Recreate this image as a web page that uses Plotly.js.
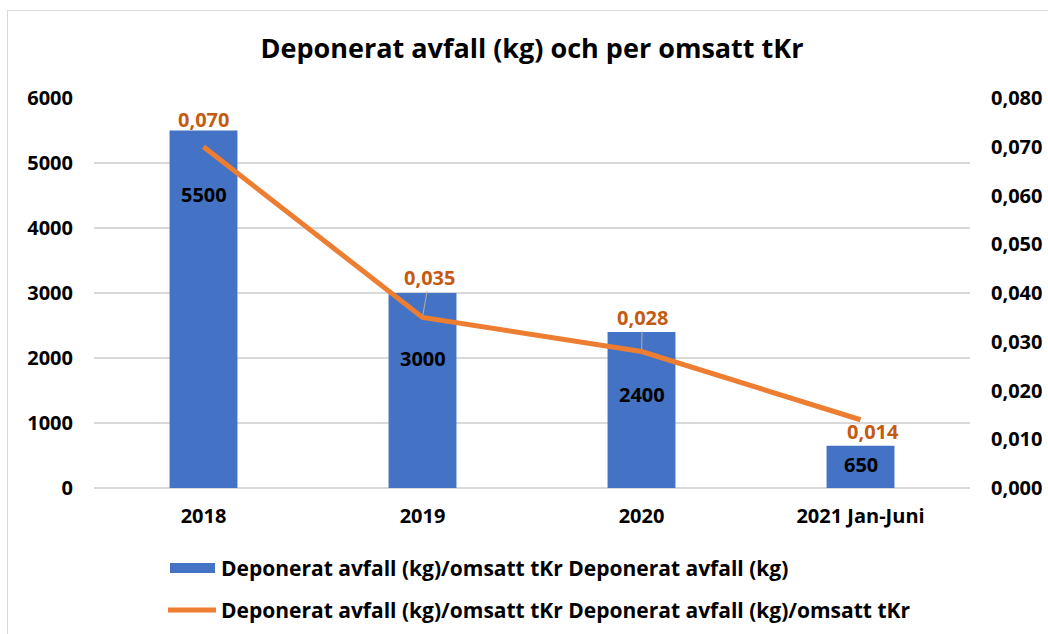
<!DOCTYPE html>
<html>
<head>
<meta charset="utf-8">
<script src="https://cdn.plot.ly/plotly-3.0.1.min.js"></script>
<style>
  html, body { margin: 0; padding: 0; background: #fff; overflow: hidden; }
  #chart { width: 1048px; height: 634px; }
  #frame { position: absolute; left: 7px; top: 10px; width: 1100px; height: 700px;
           border: 1.5px solid #d9d9d9; pointer-events: none; box-sizing: border-box; }
</style>
</head>
<body>
<div id="chart"></div>
<div id="frame"></div>
<script>
// ---- data ----
const categories = ['2018', '2019', '2020', '2021 Jan-Juni'];
const wasteKg = [5500, 3000, 2400, 650];
const wastePerTkr = [0.070, 0.035, 0.028, 0.014];
const barName = 'Deponerat avfall (kg)/omsatt tKr Deponerat avfall (kg)';
const lineName = 'Deponerat avfall (kg)/omsatt tKr Deponerat avfall (kg)/omsatt tKr';
const chartTitle = 'Deponerat avfall (kg) och per omsatt tKr';
const leftTicks = [0, 1000, 2000, 3000, 4000, 5000, 6000];
const rightTicks = [0, 0.01, 0.02, 0.03, 0.04, 0.05, 0.06, 0.07, 0.08];

// ---- label placement (pixel offsets, styling only) ----
const barLabelShift = [-64, -65, -62, -19];
const lineLabelDx = [0, 7, 1, 12];
const lineLabelDy = [-27, -40, -34, 12];
const lineLabelLeader = [false, true, true, false];

const BLUE = '#4472C4', ORANGE = '#ED7D31', LABEL_OR = '#C55A11';
const FONT = 'Open Sans, Noto Sans, sans-serif';

const W = 1048, H = 634, ml = 94, mr = 78, mt = 98, mb = 146;
const pw = W - ml - mr, ph = H - mt - mb;
const px = x => (x - ml) / pw;          // page px -> paper x
const py = y => (mt + ph - y) / ph;     // page px -> paper y

const fmt = v => v.toFixed(3).replace('.', ',');

const annotations = [];
categories.forEach((c, i) => {
  annotations.push({
    x: i, y: wasteKg[i], xref: 'x', yref: 'y', showarrow: false,
    yshift: barLabelShift[i], text: String(wasteKg[i]),
    font: { family: FONT, size: 20, color: '#000', weight: 700 }
  });
  if (lineLabelLeader[i]) {
    annotations.push({
      x: i, y: wastePerTkr[i], xref: 'x', yref: 'y2', showarrow: true,
      ax: lineLabelDx[i], ay: lineLabelDy[i], arrowhead: 0, arrowwidth: 1.2,
      arrowcolor: '#a6a6a6', standoff: 2, borderpad: 0,
      text: fmt(wastePerTkr[i]),
      font: { family: FONT, size: 20, color: LABEL_OR, weight: 700 }
    });
  } else {
    annotations.push({
      x: i, y: wastePerTkr[i], xref: 'x', yref: 'y2', showarrow: false,
      xshift: lineLabelDx[i], yshift: -lineLabelDy[i],
      text: fmt(wastePerTkr[i]),
      font: { family: FONT, size: 20, color: LABEL_OR, weight: 700 }
    });
  }
});

// legend text
annotations.push({
  x: px(219), y: py(568), xref: 'paper', yref: 'paper', xanchor: 'left', yanchor: 'middle',
  showarrow: false, text: barName,
  font: { family: FONT, size: 21, color: '#000', weight: 700 }
});
annotations.push({
  x: px(219), y: py(610), xref: 'paper', yref: 'paper', xanchor: 'left', yanchor: 'middle',
  showarrow: false, text: lineName,
  font: { family: FONT, size: 21, color: '#000', weight: 700 }
});

const shapes = [
  { type: 'rect', xref: 'paper', yref: 'paper', x0: px(170), x1: px(215), y0: py(573), y1: py(563),
    fillcolor: BLUE, line: { width: 0 } },
  { type: 'line', xref: 'paper', yref: 'paper', x0: px(168), x1: px(216), y0: py(610), y1: py(610),
    line: { color: ORANGE, width: 5 } }
];

const traces = [
  { type: 'bar', x: categories, y: wasteKg, name: barName, marker: { color: BLUE },
    width: 0.31, yaxis: 'y', hoverinfo: 'none' },
  { type: 'scatter', mode: 'lines', x: categories, y: wastePerTkr, name: lineName,
    line: { color: ORANGE, width: 5 }, yaxis: 'y2', hoverinfo: 'none' }
];

const layout = {
  width: W, height: H,
  margin: { l: ml, r: mr, t: mt, b: mb, pad: 0 },
  paper_bgcolor: '#fff', plot_bgcolor: '#fff',
  separators: ', ',
  showlegend: false,
  title: { text: chartTitle, x: px(532), xref: 'paper', xanchor: 'center', y: 1 - 49 / H, yanchor: 'middle',
           font: { family: FONT, size: 27, color: '#000', weight: 700 } },
  xaxis: { type: 'category', range: [-0.5, categories.length - 0.5], showgrid: false, zeroline: false,
           showline: false, ticks: '', ticklabelstandoff: 14,
           tickfont: { family: FONT, size: 20, color: '#000', weight: 700 } },
  yaxis: { range: [0, 6000], tickvals: leftTicks, tickformat: 'd', showgrid: true,
           gridcolor: '#d9d9d9', gridwidth: 1.5, zeroline: true, zerolinecolor: '#d9d9d9', zerolinewidth: 1.5,
           showline: false, ticks: '', ticklabelstandoff: 20,
           tickfont: { family: FONT, size: 20, color: '#000', weight: 700 } },
  yaxis2: { range: [0, 0.08], tickvals: rightTicks, tickformat: '.3f', overlaying: 'y', side: 'right',
            showgrid: false, zeroline: false, showline: false, ticks: '', ticklabelstandoff: 20,
            tickfont: { family: FONT, size: 20, color: '#000', weight: 700 } },
  annotations: annotations,
  shapes: shapes
};

Plotly.newPlot('chart', traces, layout, { displayModeBar: false, staticPlot: true });
</script>
</body>
</html>
